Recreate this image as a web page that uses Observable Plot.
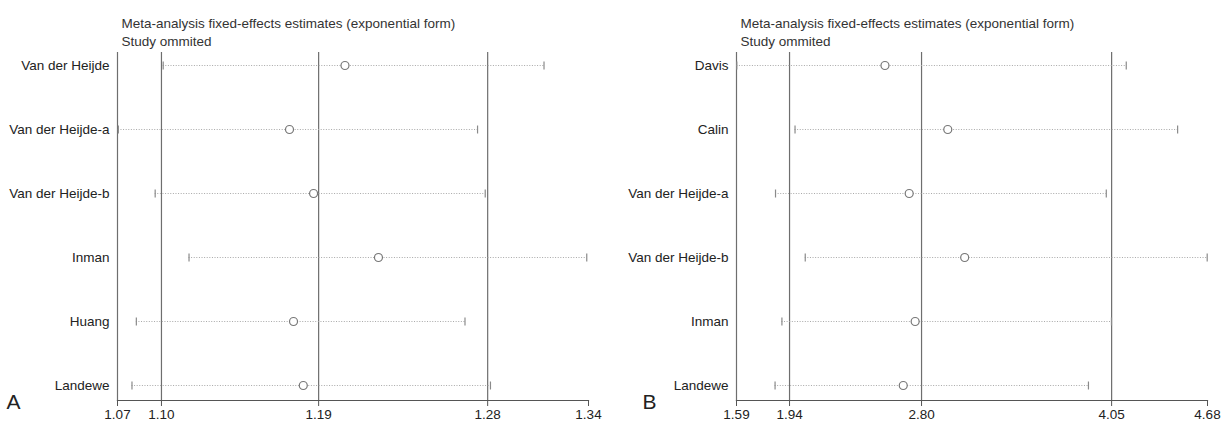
<!DOCTYPE html>
<html>
<head>
<meta charset="utf-8">
<script src="https://cdn.jsdelivr.net/npm/d3@7"></script>
<script src="https://cdn.jsdelivr.net/npm/@observablehq/plot@0.6"></script>
<style>
  html, body { margin: 0; padding: 0; background: #fff; }
  #wrap { display: flex; width: 1232px; height: 423px; }
</style>
</head>
<body>
<div id="wrap"></div>
<script>
// ---- Panel A data ----
const studiesA = ["Van der Heijde", "Van der Heijde-a", "Van der Heijde-b", "Inman", "Huang", "Landewe"];
const estA  = [1.2004, 1.1686, 1.1824, 1.2196, 1.1709, 1.1765];
const lowA  = [1.0962, 1.0705, 1.0916, 1.1110, 1.0808, 1.0783];
const highA = [1.3145, 1.2764, 1.2808, 1.3390, 1.2692, 1.2838];
const refsA = [1.0952, 1.1853, 1.2822];
const domainA = [1.07, 1.34];
const tickValsA = [1.07, 1.0952, 1.1853, 1.2822, 1.34];
const tickLabelsA = ["1.07", "1.10", "1.19", "1.28", "1.34"];

// ---- Panel B data ----
const studiesB = ["Davis", "Calin", "Van der Heijde-a", "Van der Heijde-b", "Inman", "Landewe"];
const estB  = [2.564, 2.976, 2.723, 3.087, 2.762, 2.684];
const lowB  = [1.592, 1.974, 1.846, 2.041, 1.888, 1.843];
const highB = [4.147, 4.484, 4.016, 4.678, 4.050, 3.899];
const refsB = [1.938, 2.804, 4.051];
const domainB = [1.59, 4.68];
const tickValsB = [1.59, 1.938, 2.804, 4.051, 4.68];
const tickLabelsB = ["1.59", "1.94", "2.80", "4.05", "4.68"];

const titleLines = ["Meta-analysis fixed-effects estimates (exponential form)", "Study ommited"];
const panelLetters = ["A", "B"];

// vertical cap symbol for CI ends
const capSymbol = {draw(context) { context.moveTo(0, -4); context.lineTo(0, 4); }};

function panel({studies, est, low, high, refs, domain, tickVals, tickLabels, letter, marginLeft, marginRight, letterX}) {
  const rows = studies.map((s, i) => ({study: s, est: est[i], lo: low[i], hi: high[i]}));
  const labelMap = new Map(tickVals.map((v, i) => [v, tickLabels[i]]));
  const font = 13.5;
  return Plot.plot({
    width: 616,
    height: 423,
    marginTop: 52,
    marginBottom: 23,
    marginLeft,
    marginRight,
    style: {fontFamily: "'Liberation Sans', Arial, sans-serif", fontSize: font + "px", color: "#222", background: "white"},
    x: {domain, label: null},
    y: {type: "point", domain: studies, padding: 0, insetTop: 10.5, insetBottom: 13, label: null},
    marks: [
      Plot.ruleX(refs, {stroke: "#6e6e6e", strokeWidth: 1.2}),
      Plot.frame({anchor: "left", stroke: "#6e6e6e", strokeWidth: 1.2}),
      Plot.frame({anchor: "bottom", stroke: "#555", strokeWidth: 1.2}),
      Plot.axisX({ticks: tickVals, tickFormat: d => labelMap.get(d), tickSize: 6, tickPadding: 3, stroke: "#555", fill: "#222", fontSize: font, label: null}),
      Plot.axisY({tickSize: 0, tickPadding: 8, fill: "#222", fontSize: font, label: null}),
      Plot.ruleY(rows, {y: "study", x1: "lo", x2: "hi", stroke: "#a8a8a8", strokeWidth: 1, strokeDasharray: "1,1.6"}),
      Plot.dot(rows, {x: "lo", y: "study", symbol: capSymbol, fill: "none", stroke: "#8a8a8a", strokeWidth: 1.2}),
      Plot.dot(rows, {x: "hi", y: "study", symbol: capSymbol, fill: "none", stroke: "#8a8a8a", strokeWidth: 1.2}),
      Plot.dot(rows, {x: "est", y: "study", r: 4, stroke: "#777", strokeWidth: 1.2, fill: "white"}),
      Plot.text([titleLines[0]], {frameAnchor: "top-left", dx: 4, dy: -34, textAnchor: "start", fill: "#333", fontSize: font}),
      Plot.text([titleLines[1]], {frameAnchor: "top-left", dx: 4, dy: -16, textAnchor: "start", fill: "#333", fontSize: font}),
      Plot.text([letter], {frameAnchor: "bottom-left", dx: letterX - marginLeft, dy: 8, textAnchor: "start", fill: "#222", fontSize: 21})
    ]
  });
}

const wrap = document.getElementById("wrap");
wrap.append(panel({studies: studiesA, est: estA, low: lowA, high: highA, refs: refsA, domain: domainA,
  tickVals: tickValsA, tickLabels: tickLabelsA, letter: panelLetters[0], marginLeft: 117, marginRight: 28, letterX: 6}));
wrap.append(panel({studies: studiesB, est: estB, low: lowB, high: highB, refs: refsB, domain: domainB,
  tickVals: tickValsB, tickLabels: tickLabelsB, letter: panelLetters[1], marginLeft: 120, marginRight: 25, letterX: 26}));
</script>
</body>
</html>
